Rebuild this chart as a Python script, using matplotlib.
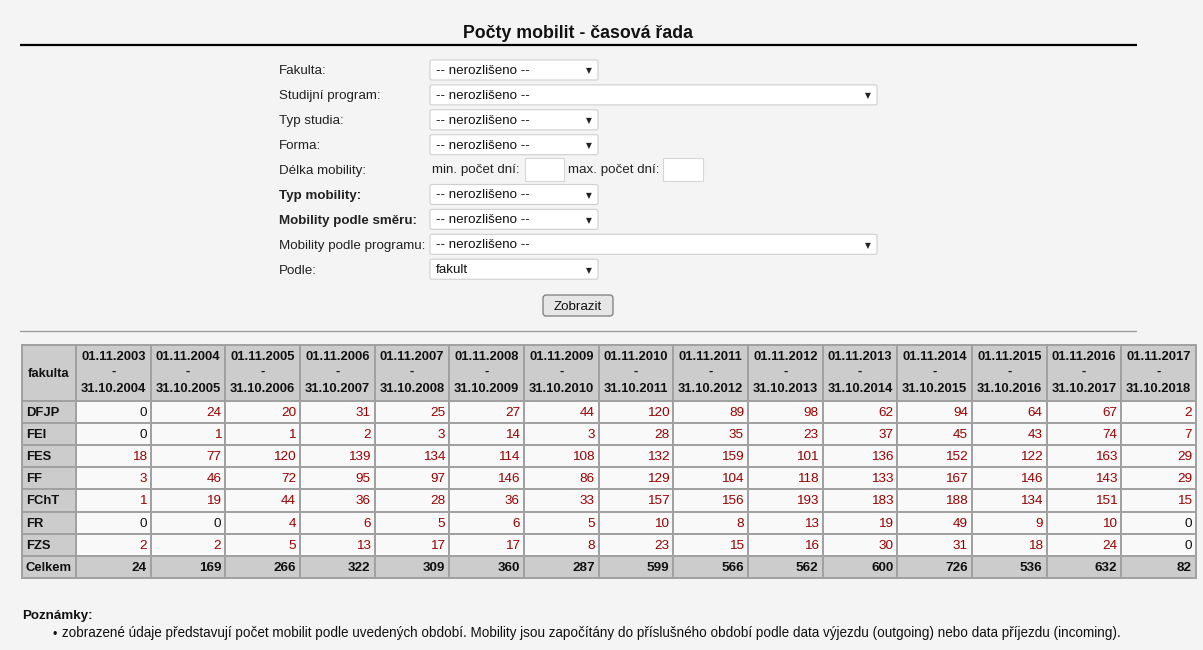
import matplotlib
matplotlib.use("Agg")
import matplotlib.pyplot as plt
from matplotlib.patches import Rectangle, FancyBboxPatch

plt.rcParams['font.family'] = ['Liberation Sans', 'DejaVu Sans']

title = "Počty mobilit - časová řada"

form_labels = ["Fakulta:", "Studijní program:", "Typ studia:", "Forma:", "Délka mobility:",
               "Typ mobility:", "Mobility podle směru:", "Mobility podle programu:", "Podle:"]
form_values = ["-- nerozlišeno --", "-- nerozlišeno --", "-- nerozlišeno --", "-- nerozlišeno --", None,
               "-- nerozlišeno --", "-- nerozlišeno --", "-- nerozlišeno --", "fakult"]
form_bold = [False, False, False, False, False, True, True, False, False]
form_wide = [False, True, False, False, False, False, False, True, False]

faculties = ["DFJP", "FEI", "FES", "FF", "FChT", "FR", "FZS"]
period_starts = ["01.11.2003", "01.11.2004", "01.11.2005", "01.11.2006", "01.11.2007",
                 "01.11.2008", "01.11.2009", "01.11.2010", "01.11.2011", "01.11.2012",
                 "01.11.2013", "01.11.2014", "01.11.2015", "01.11.2016", "01.11.2017"]
period_ends = ["31.10.2004", "31.10.2005", "31.10.2006", "31.10.2007", "31.10.2008",
               "31.10.2009", "31.10.2010", "31.10.2011", "31.10.2012", "31.10.2013",
               "31.10.2014", "31.10.2015", "31.10.2016", "31.10.2017", "31.10.2018"]

dfjp = [0, 24, 20, 31, 25, 27, 44, 120, 89, 98, 62, 94, 64, 67, 2]
fei = [0, 1, 1, 2, 3, 14, 3, 28, 35, 23, 37, 45, 43, 74, 7]
fes = [18, 77, 120, 139, 134, 114, 108, 132, 159, 101, 136, 152, 122, 163, 29]
ff = [3, 46, 72, 95, 97, 146, 86, 129, 104, 118, 133, 167, 146, 143, 29]
fcht = [1, 19, 44, 36, 28, 36, 33, 157, 156, 193, 183, 188, 134, 151, 15]
fr = [0, 0, 4, 6, 5, 6, 5, 10, 8, 13, 19, 49, 9, 10, 0]
fzs = [2, 2, 5, 13, 17, 17, 8, 23, 15, 16, 30, 31, 18, 24, 0]
celkem = [24, 169, 266, 322, 309, 360, 287, 599, 566, 562, 600, 726, 536, 632, 82]

rows = [dfjp, fei, fes, ff, fcht, fr, fzs]

note_title = "Poznámky:"
note_text = ("zobrazené údaje představují počet mobilit podle uvedených období. Mobility jsou započítány "
             "do příslušného období podle data výjezdu (outgoing) nebo data příjezdu (incoming).")

BG = "#f4f4f4"
HEAD = "#cccccc"
CELL = "#f9f9f9"
BORDER = "#a0a0a0"
RED = "#990000"
TXT = "#111111"
VA = "center_baseline"

fig = plt.figure(figsize=(12.03, 6.5), dpi=100, facecolor=BG)
ax = fig.add_axes([0, 0, 1, 1])
ax.set_xlim(0, 1203)
ax.set_ylim(650, 0)
ax.axis("off")
ax.set_facecolor(BG)

# header
ax.text(578, 31.5, title, ha="center", va=VA, fontsize=12.8, fontweight="bold", color=TXT)
ax.plot([20, 1137], [45, 45], color="black", lw=1.6, solid_capstyle="butt")

# form
fs = 9.6
lab_x, box_x = 279, 430
for i, (lab, val) in enumerate(zip(form_labels, form_values)):
    y = 70 + i * 24.9
    ax.text(lab_x, y, lab, ha="left", va=VA, fontsize=fs, color="#222222",
            fontweight="bold" if form_bold[i] else "normal")
    if val is None:
        ax.text(432, y - 1, "min. počet dní:", ha="left", va=VA, fontsize=fs, color="#222222")
        ax.add_patch(Rectangle((525, y - 12), 39, 23, facecolor="white", edgecolor="#d6d6d6", lw=0.8))
        ax.text(568, y - 1, "max. počet dní:", ha="left", va=VA, fontsize=fs, color="#222222")
        ax.add_patch(Rectangle((663, y - 12), 40, 23, facecolor="white", edgecolor="#d6d6d6", lw=0.8))
        continue
    right = 877 if form_wide[i] else 598
    ax.add_patch(FancyBboxPatch((box_x, y - 10), right - box_x, 20, boxstyle="round,pad=0,rounding_size=2",
                                facecolor="white", edgecolor="#cfcfcf", lw=0.8))
    ax.text(box_x + 6, y - 0.5, val, ha="left", va=VA, fontsize=fs, color=TXT)
    ax.text(right - 9, y + 1, "▼", ha="center", va="center", fontsize=5.5, color="#222222",
            family="DejaVu Sans")

# button
ax.add_patch(FancyBboxPatch((543, 295), 70, 21, boxstyle="round,pad=0,rounding_size=3",
                            facecolor="#e6e6e6", edgecolor="#7a7a7a", lw=0.9))
ax.text(578, 305.5, "Zobrazit", ha="center", va=VA, fontsize=fs, color=TXT)

ax.plot([20, 1136], [331, 331], color="#999999", lw=0.9)

# table
tx0, tx1, ty0 = 22, 1196, 345
first_w = 54
ncol = len(period_starts)
col_w = (tx1 - tx0 - first_w) / ncol
head_h = 55.5
row_h = 22.2
tfs = 9.4

ax.add_patch(Rectangle((tx0, ty0), first_w, head_h, facecolor=HEAD, edgecolor=BORDER, lw=1.4))
ax.text(tx0 + first_w / 2, ty0 + head_h / 2, "fakulta", ha="center", va=VA,
        fontsize=tfs, fontweight="bold", color=TXT)
for j in range(ncol):
    x = tx0 + first_w + j * col_w
    ax.add_patch(Rectangle((x, ty0), col_w, head_h, facecolor=HEAD, edgecolor=BORDER, lw=1.4))
    cx = x + col_w / 2
    ax.text(cx, ty0 + 10.5, period_starts[j], ha="center", va=VA, fontsize=tfs,
            fontweight="bold", color=TXT)
    ax.text(cx, ty0 + 25.5, "-", ha="center", va=VA, fontsize=tfs, fontweight="bold", color=TXT)
    ax.text(cx, ty0 + 42, period_ends[j], ha="center", va=VA, fontsize=tfs,
            fontweight="bold", color=TXT)

all_rows = rows + [celkem]
all_names = faculties + ["Celkem"]
for i, (name, vals) in enumerate(zip(all_names, all_rows)):
    y = ty0 + head_h + i * row_h
    total = name == "Celkem"
    ax.add_patch(Rectangle((tx0, y), first_w, row_h, facecolor=HEAD, edgecolor=BORDER, lw=1.4))
    ax.text(tx0 + 4, y + row_h / 2 - 0.5, name, ha="left", va=VA, fontsize=tfs,
            fontweight="bold", color=TXT)
    for j, v in enumerate(vals):
        x = tx0 + first_w + j * col_w
        ax.add_patch(Rectangle((x, y), col_w, row_h, facecolor=HEAD if total else CELL,
                               edgecolor=BORDER, lw=1.4))
        if total:
            color, weight = TXT, "bold"
        else:
            color, weight = (TXT if v == 0 else RED), "normal"
        ax.text(x + col_w - 4, y + row_h / 2 - 0.5, str(v), ha="right", va=VA, fontsize=9.7,
                fontweight=weight, color=color)

# notes
ax.text(22, 614.5, note_title, ha="left", va=VA, fontsize=fs, fontweight="bold", color=TXT)
ax.text(55, 633.5, "•", ha="center", va=VA, fontsize=9, color=TXT)
ax.text(62, 632, note_text, ha="left", va=VA, fontsize=9.75, color=TXT)

fig.savefig("out.png", dpi=100, facecolor=BG)
